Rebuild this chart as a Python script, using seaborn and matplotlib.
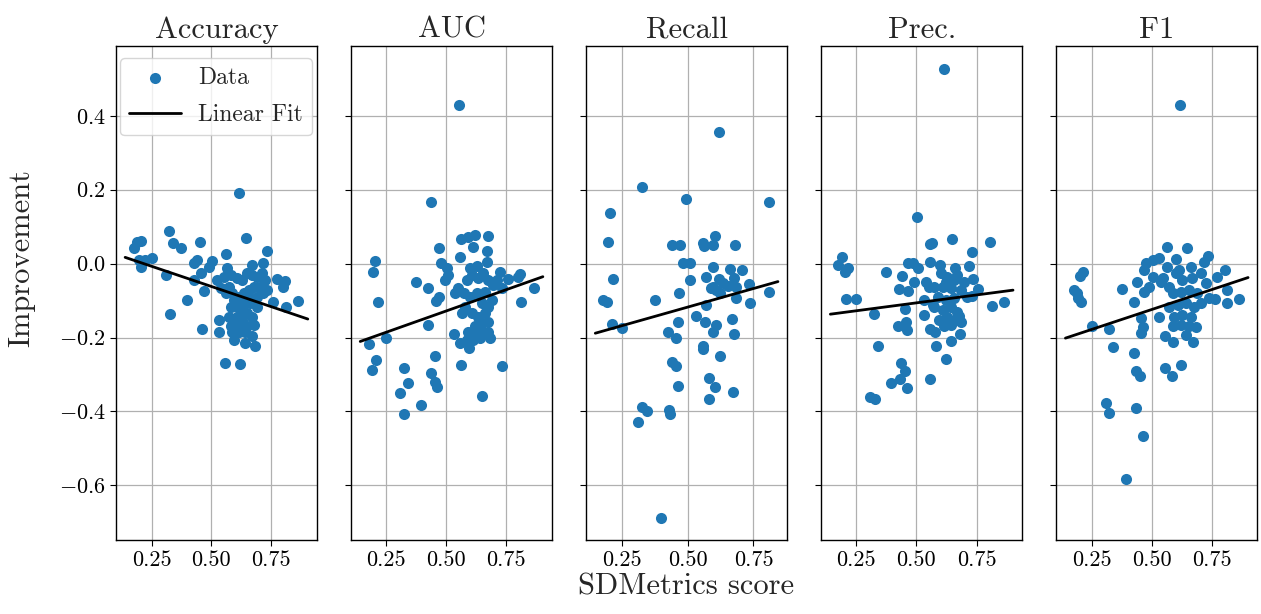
import numpy as np
import pandas as pd
import matplotlib
matplotlib.use("Agg")
import matplotlib.pyplot as plt
import seaborn as sns

# ---- data: SDMetrics score (x) vs. improvement (y) per metric ----
metrics = ["Accuracy", "AUC", "Recall", "Prec.", "F1"]

acc_x = [0.617, 0.646, 0.731, 0.561, 0.324, 0.341, 0.374, 0.452, 0.179, 0.188, 0.206, 0.198, 0.206,
         0.250, 0.223, 0.309, 0.429, 0.440, 0.504, 0.490, 0.456, 0.429, 0.467, 0.396, 0.326, 0.462,
         0.532, 0.532, 0.555, 0.621, 0.717, 0.669, 0.566, 0.758, 0.813, 0.863, 0.772, 0.806, 0.800,
         0.642, 0.680, 0.594, 0.539, 0.552, 0.580, 0.607, 0.628, 0.648, 0.669, 0.690, 0.710, 0.724,
         0.703, 0.676, 0.655, 0.635, 0.614, 0.594, 0.580, 0.607, 0.635, 0.662, 0.690, 0.717, 0.731,
         0.607, 0.628, 0.648, 0.669, 0.594, 0.621, 0.648, 0.676, 0.587, 0.614, 0.642, 0.669, 0.573,
         0.559, 0.573, 0.525, 0.580, 0.628, 0.655, 0.690, 0.587]
acc_y = [0.192, 0.070, 0.034, 0.026, 0.087, 0.057, 0.041, 0.059, 0.041, 0.058, 0.061, 0.010, -0.010,
         0.014, 0.010, -0.032, 0.003, 0.010, 0.008, -0.008, -0.026, -0.044, -0.073, -0.098, -0.137, -0.176,
         -0.152, -0.186, -0.268, -0.271, 0.001, -0.004, -0.013, -0.103, -0.118, -0.101, -0.042, -0.046, -0.062,
         -0.215, -0.222, -0.206, -0.067, -0.035, -0.031, -0.040, -0.044, -0.026, -0.031, -0.035, -0.026, -0.044,
         -0.062, -0.062, -0.071, -0.080, -0.089, -0.098, -0.116, -0.116, -0.107, -0.107, -0.089, -0.080, -0.071,
         -0.143, -0.152, -0.134, -0.143, -0.161, -0.170, -0.170, -0.166, -0.186, -0.186, -0.186, -0.195, -0.143,
         -0.080, -0.062, -0.044, -0.170, -0.125, -0.094, -0.116, -0.080]

auc_x = [0.555, 0.438, 0.675, 0.620, 0.592, 0.562, 0.613, 0.468, 0.668, 0.558, 0.479, 0.668, 0.627,
         0.599, 0.503, 0.507, 0.493, 0.203, 0.195, 0.215, 0.374, 0.425, 0.468, 0.457, 0.424, 0.532,
         0.557, 0.594, 0.247, 0.178, 0.207, 0.189, 0.323, 0.340, 0.309, 0.325, 0.395, 0.438, 0.453,
         0.452, 0.460, 0.563, 0.648, 0.733, 0.813, 0.865, 0.807, 0.800, 0.725, 0.758, 0.731, 0.537,
         0.551, 0.586, 0.606, 0.634, 0.655, 0.675, 0.696, 0.572, 0.599, 0.627, 0.662, 0.689, 0.675,
         0.579, 0.606, 0.634, 0.662, 0.648, 0.620, 0.675, 0.592, 0.620, 0.648, 0.675, 0.682, 0.613,
         0.641, 0.585, 0.565, 0.710, 0.648]
auc_y = [0.429, 0.168, 0.076, 0.077, 0.073, 0.067, 0.044, 0.041, 0.034, 0.017, 0.003, 0.005, -0.006,
         -0.013, -0.013, -0.031, -0.044, 0.008, -0.023, -0.103, -0.049, -0.067, -0.091, -0.100, -0.166, -0.190,
         -0.215, -0.229, -0.200, -0.218, -0.260, -0.289, -0.281, -0.323, -0.350, -0.406, -0.382, -0.295, -0.250,
         -0.319, -0.334, -0.274, -0.359, -0.277, -0.103, -0.067, -0.028, -0.035, -0.023, -0.042, -0.067, -0.080,
         -0.067, -0.044, -0.031, -0.040, -0.026, -0.044, -0.058, -0.080, -0.089, -0.080, -0.076, -0.098, -0.116,
         -0.116, -0.134, -0.143, -0.134, -0.161, -0.170, -0.157, -0.186, -0.190, -0.182, -0.186, -0.200, -0.206,
         -0.202, -0.206, -0.134, -0.044, -0.107]

rec_x = [0.619, 0.326, 0.495, 0.808, 0.205, 0.197, 0.441, 0.472, 0.558, 0.561, 0.596, 0.604, 0.679,
         0.482, 0.508, 0.596, 0.662, 0.706, 0.571, 0.510, 0.217, 0.619, 0.596, 0.609, 0.621, 0.653,
         0.674, 0.684, 0.732, 0.808, 0.684, 0.738, 0.571, 0.466, 0.375, 0.179, 0.192, 0.210, 0.250,
         0.530, 0.564, 0.609, 0.594, 0.669, 0.674, 0.463, 0.426, 0.457, 0.558, 0.558, 0.624, 0.438,
         0.457, 0.461, 0.581, 0.604, 0.581, 0.671, 0.326, 0.343, 0.309, 0.427, 0.434, 0.397, 0.634,
         0.590]
rec_y = [0.355, 0.208, 0.175, 0.168, 0.138, 0.059, 0.051, 0.051, 0.057, 0.049, 0.051, 0.075, 0.051,
         0.001, 0.001, -0.008, -0.014, -0.017, -0.035, -0.044, -0.041, -0.042, -0.062, -0.071, -0.080, -0.060,
         -0.040, -0.062, -0.056, -0.077, -0.094, -0.107, -0.113, -0.080, -0.098, -0.098, -0.104, -0.163, -0.173,
         -0.141, -0.159, -0.166, -0.184, -0.149, -0.191, -0.159, -0.184, -0.202, -0.223, -0.230, -0.251, -0.267,
         -0.276, -0.332, -0.310, -0.334, -0.366, -0.348, -0.389, -0.398, -0.428, -0.396, -0.407, -0.687, -0.053,
         -0.067]

prec_x = [0.615, 0.503, 0.646, 0.555, 0.563, 0.805, 0.731, 0.192, 0.176, 0.217, 0.203, 0.467, 0.485,
          0.508, 0.558, 0.596, 0.659, 0.719, 0.374, 0.440, 0.492, 0.426, 0.467, 0.539, 0.206, 0.250,
          0.324, 0.453, 0.530, 0.530, 0.423, 0.457, 0.462, 0.341, 0.437, 0.451, 0.434, 0.396, 0.459,
          0.308, 0.328, 0.556, 0.624, 0.581, 0.642, 0.680, 0.812, 0.863, 0.756, 0.736, 0.732, 0.558,
          0.577, 0.602, 0.629, 0.670, 0.698, 0.574, 0.609, 0.643, 0.684, 0.588, 0.622, 0.657, 0.574,
          0.609, 0.643, 0.670, 0.595, 0.629, 0.657, 0.684, 0.615, 0.643, 0.677, 0.712, 0.554, 0.567,
          0.622, 0.657]
prec_y = [0.528, 0.127, 0.068, 0.053, 0.055, 0.058, 0.031, 0.017, -0.004, -0.013, -0.023, 0.003, 0.003,
          -0.013, 0.004, -0.004, -0.013, -0.006, -0.023, -0.033, -0.049, -0.069, -0.075, -0.049, -0.096, -0.096,
          -0.136, -0.123, -0.139, -0.098, -0.170, -0.159, -0.179, -0.223, -0.268, -0.290, -0.313, -0.323, -0.337,
          -0.361, -0.365, -0.313, -0.258, -0.224, -0.209, -0.190, -0.114, -0.105, -0.069, -0.042, -0.087, -0.177,
          -0.184, -0.026, -0.035, -0.031, -0.049, -0.062, -0.062, -0.067, -0.071, -0.089, -0.098, -0.094, -0.116,
          -0.125, -0.116, -0.130, -0.152, -0.143, -0.152, -0.157, -0.170, -0.166, -0.142, -0.089, -0.062, -0.112,
          -0.049, -0.044]

f1_x = [0.618, 0.561, 0.645, 0.732, 0.717, 0.662, 0.503, 0.531, 0.600, 0.565, 0.476, 0.469, 0.503,
        0.806, 0.772, 0.813, 0.861, 0.813, 0.761, 0.214, 0.203, 0.176, 0.189, 0.195, 0.207, 0.374,
        0.437, 0.466, 0.425, 0.490, 0.538, 0.250, 0.322, 0.454, 0.462, 0.455, 0.528, 0.338, 0.425,
        0.435, 0.451, 0.311, 0.324, 0.433, 0.462, 0.393, 0.554, 0.582, 0.622, 0.556, 0.590, 0.673,
        0.641, 0.682, 0.600, 0.627, 0.669, 0.703, 0.724, 0.586, 0.620, 0.655, 0.689, 0.737, 0.572,
        0.607, 0.641, 0.675, 0.593, 0.627, 0.662, 0.586, 0.620, 0.655, 0.572, 0.703, 0.545, 0.614]
f1_y = [0.429, 0.044, 0.041, 0.021, 0.004, -0.008, 0.010, 0.014, 0.012, -0.008, 0.003, -0.017, -0.037,
        -0.017, -0.037, -0.071, -0.096, -0.107, -0.096, -0.022, -0.033, -0.071, -0.080, -0.094, -0.105, -0.069,
        -0.051, -0.076, -0.103, -0.062, -0.051, -0.168, -0.177, -0.148, -0.172, -0.188, -0.143, -0.226, -0.241,
        -0.290, -0.304, -0.376, -0.405, -0.391, -0.465, -0.583, -0.283, -0.303, -0.274, -0.195, -0.211, -0.212,
        -0.193, -0.172, -0.026, -0.044, -0.040, -0.026, -0.053, -0.080, -0.076, -0.071, -0.080, -0.094, -0.116,
        -0.112, -0.107, -0.116, -0.143, -0.139, -0.143, -0.170, -0.166, -0.170, -0.062, -0.107, -0.040, -0.017]

scores = [acc_x, auc_x, rec_x, prec_x, f1_x]
improvements = [acc_y, auc_y, rec_y, prec_y, f1_y]

# least-squares line per metric: slope, intercept and the x-span it is drawn over
fit_slope = [-0.219, 0.230, 0.201, 0.0858, 0.216]
fit_intercept = [0.0477, -0.243, -0.218, -0.149, -0.232]
fit_span = [(0.140, 0.902), (0.141, 0.903), (0.148, 0.843), (0.143, 0.901), (0.141, 0.900)]

# ---- style ----
sns.set_style("ticks")
plt.rcParams.update({
    "font.family": "serif",
    "font.serif": ["cmr10", "DejaVu Serif"],
    "mathtext.fontset": "cm",
    "axes.formatter.use_mathtext": True,
    "axes.unicode_minus": True,
    "axes.edgecolor": "black",
    "axes.linewidth": 1.0,
    "xtick.color": "black",
    "ytick.color": "black",
    "xtick.direction": "out",
    "ytick.direction": "out",
    "xtick.major.size": 4,
    "ytick.major.size": 4,
    "grid.color": "#b0b0b0",
    "grid.linewidth": 0.9,
})

fig, axes = plt.subplots(1, 5, figsize=(12.61, 6.14), dpi=100, sharey=True)
fig.subplots_adjust(left=0.092, right=0.997, top=0.925, bottom=0.1205, wspace=0.17)

for i, ax in enumerate(axes):
    df = pd.DataFrame({"score": scores[i], "improvement": improvements[i]})
    sns.scatterplot(data=df, x="score", y="improvement", ax=ax, s=64, color="#1f77b4",
                    linewidth=0, label="Data", legend=(i == 0), zorder=3)
    x0, x1 = fit_span[i]
    line_df = pd.DataFrame({"score": [x0, x1]})
    line_df["fit"] = fit_slope[i] * line_df["score"] + fit_intercept[i]
    sns.lineplot(data=line_df, x="score", y="fit", ax=ax, color="black", lw=2,
                 label="Linear Fit", legend=(i == 0), zorder=4)
    ax.set_title(metrics[i], fontsize=22)
    ax.set_xticks([0.25, 0.5, 0.75])
    ax.set_xticklabels(["0.25", "0.50", "0.75"])
    ax.tick_params(axis="both", labelsize=16)
    ax.grid(True)
    ax.set_axisbelow(True)
    ax.set_xlabel("")
    ax.set_ylabel("")
    for sp in ax.spines.values():
        sp.set_visible(True)
        sp.set_color("black")

axes[0].set_yticks([-0.6, -0.4, -0.2, 0.0, 0.2, 0.4])
axes[0].set_ylabel("Improvement", fontsize=22)
axes[0].yaxis.set_label_coords(-0.40, 0.57)
axes[0].legend(loc="upper left", bbox_to_anchor=(0.02, 0.976), borderaxespad=0,
               fontsize=17, frameon=True, handlelength=2.2, handletextpad=0.72,
               labelspacing=0.65, borderpad=0.38)
fig.text(0.544, 0.022, "SDMetrics score", ha="center", va="bottom", fontsize=22)

fig.savefig("out.png", dpi=100)
